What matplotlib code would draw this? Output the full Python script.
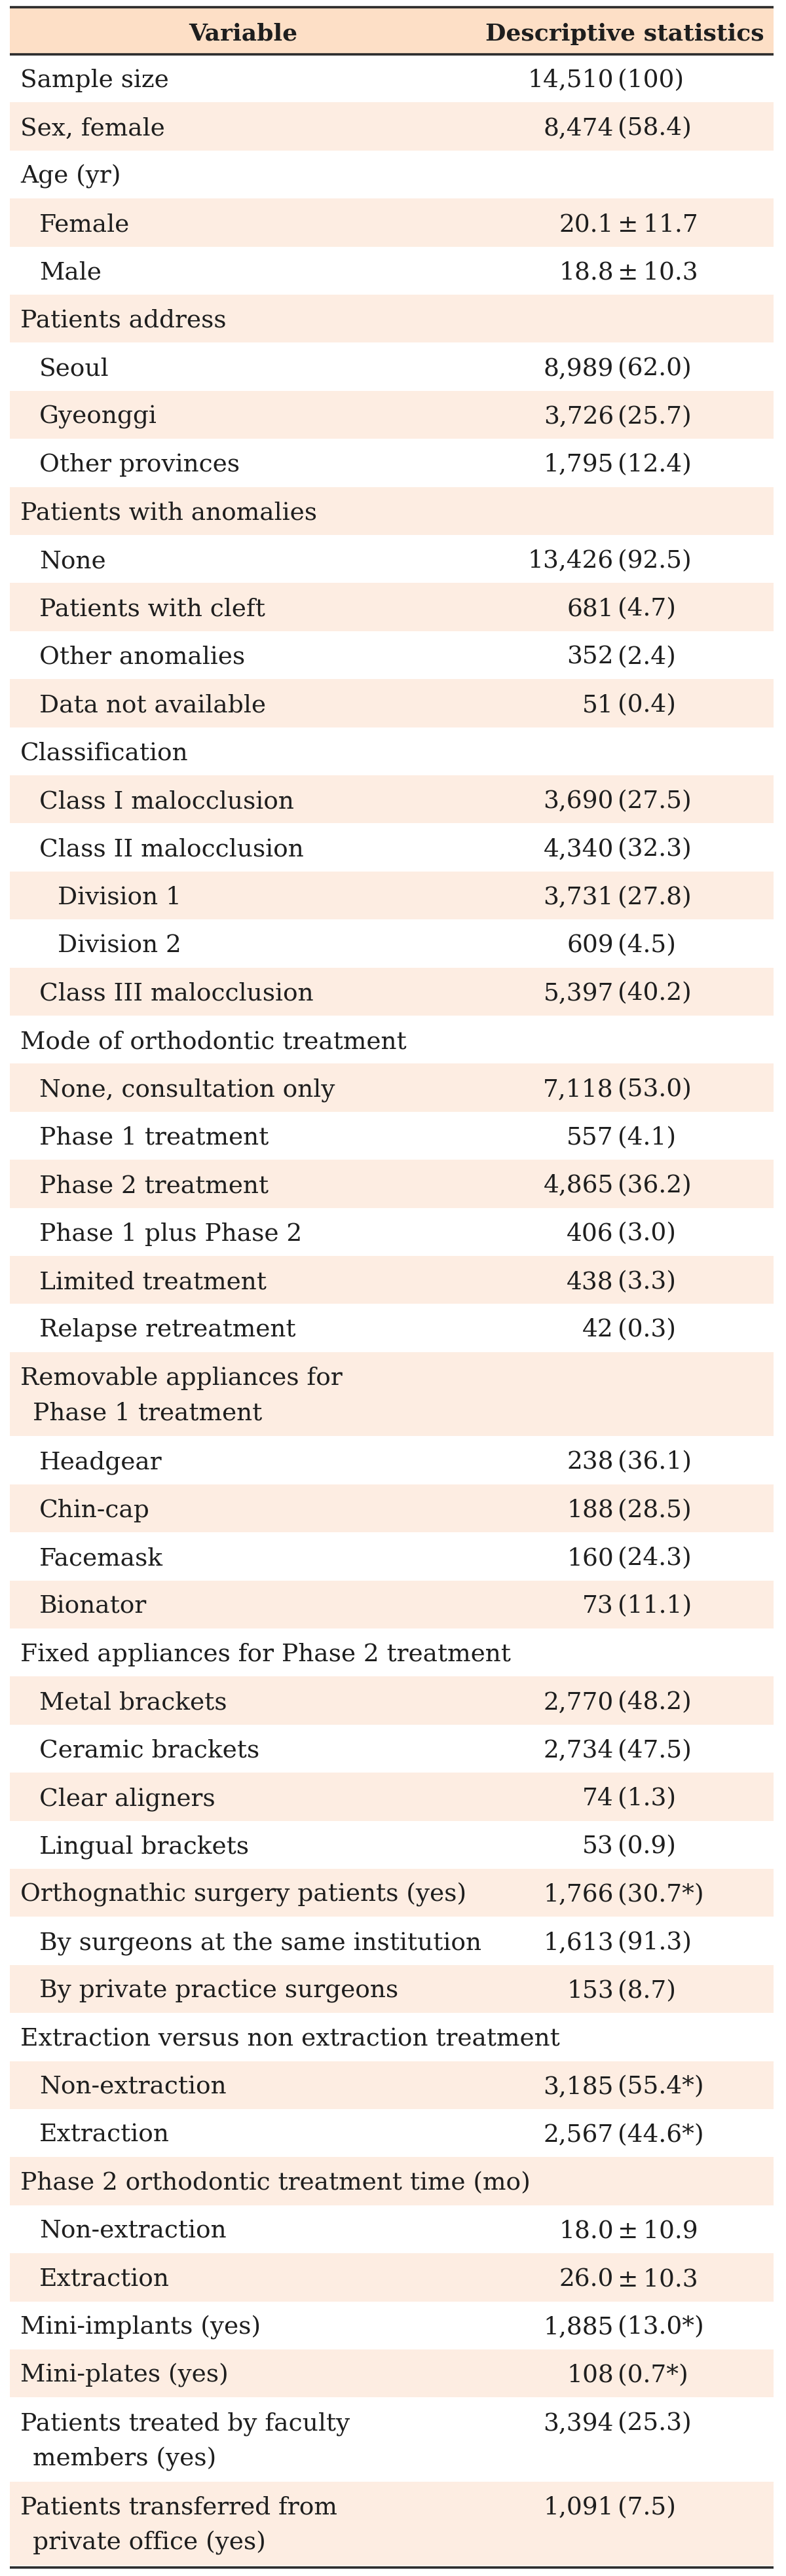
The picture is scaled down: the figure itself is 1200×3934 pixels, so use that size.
import matplotlib
matplotlib.use("Agg")
import matplotlib.pyplot as plt
from matplotlib.patches import Rectangle

# ---------------- data ----------------
headers = ["Variable", "Descriptive statistics"]

labels = [
    "Sample size", "Sex, female", "Age (yr)", "Female", "Male",
    "Patients address", "Seoul", "Gyeonggi", "Other provinces",
    "Patients with anomalies", "None", "Patients with cleft", "Other anomalies", "Data not available",
    "Classification", "Class I malocclusion", "Class II malocclusion", "Division 1", "Division 2",
    "Class III malocclusion",
    "Mode of orthodontic treatment", "None, consultation only", "Phase 1 treatment", "Phase 2 treatment",
    "Phase 1 plus Phase 2", "Limited treatment", "Relapse retreatment",
    "Removable appliances for\nPhase 1 treatment", "Headgear", "Chin-cap", "Facemask", "Bionator",
    "Fixed appliances for Phase 2 treatment", "Metal brackets", "Ceramic brackets", "Clear aligners",
    "Lingual brackets",
    "Orthognathic surgery patients (yes)", "By surgeons at the same institution", "By private practice surgeons",
    "Extraction versus non extraction treatment", "Non-extraction", "Extraction",
    "Phase 2 orthodontic treatment time (mo)", "Non-extraction", "Extraction",
    "Mini-implants (yes)", "Mini-plates (yes)",
    "Patients treated by faculty\nmembers (yes)", "Patients transferred from\nprivate office (yes)",
]

levels = [
    0, 0, 0, 1, 1,
    0, 1, 1, 1,
    0, 1, 1, 1, 1,
    0, 1, 1, 2, 2,
    1,
    0, 1, 1, 1,
    1, 1, 1,
    0, 1, 1, 1, 1,
    0, 1, 1, 1,
    1,
    0, 1, 1,
    0, 1, 1,
    0, 1, 1,
    0, 0,
    0, 0,
]

values = [
    "14,510 (100)", "8,474 (58.4)", "", "20.1 ± 11.7", "18.8 ± 10.3",
    "", "8,989 (62.0)", "3,726 (25.7)", "1,795 (12.4)",
    "", "13,426 (92.5)", "681 (4.7)", "352 (2.4)", "51 (0.4)",
    "", "3,690 (27.5)", "4,340 (32.3)", "3,731 (27.8)", "609 (4.5)",
    "5,397 (40.2)",
    "", "7,118 (53.0)", "557 (4.1)", "4,865 (36.2)",
    "406 (3.0)", "438 (3.3)", "42 (0.3)",
    "", "238 (36.1)", "188 (28.5)", "160 (24.3)", "73 (11.1)",
    "", "2,770 (48.2)", "2,734 (47.5)", "74 (1.3)",
    "53 (0.9)",
    "1,766 (30.7*)", "1,613 (91.3)", "153 (8.7)",
    "", "3,185 (55.4*)", "2,567 (44.6*)",
    "", "18.0 ± 10.9", "26.0 ± 10.3",
    "1,885 (13.0*)", "108 (0.7*)",
    "3,394 (25.3)", "1,091 (7.5)",
]

# ---------------- style ----------------
W, H = 1200, 3934
DPI = 100
HEADER_BG = "#FDDFC6"
STRIPE_BG = "#FDEDE2"
LINE_COLOR = "#2b2b2b"
TEXT_COLOR = "#1e1e1e"
FONT = ["DejaVu Serif"]
FS = 27
FS_HEAD = 26

X0, X1 = 15, 1181
TOP_LINE = 11
HEADER_BOTTOM = 83
ROW_H = 73.4
ROW_H2 = 128.5
INDENT = [31, 60, 88]
CONT_INDENT = 19
SPLIT_X = 939

fig = plt.figure(figsize=(W / DPI, H / DPI), dpi=DPI)
ax = fig.add_axes([0, 0, 1, 1])
ax.set_xlim(0, W)
ax.set_ylim(H, 0)
ax.axis("off")

# header
ax.add_patch(Rectangle((X0, TOP_LINE), X1 - X0, HEADER_BOTTOM - TOP_LINE, facecolor=HEADER_BG, edgecolor="none"))
ax.plot([X0, X1], [TOP_LINE, TOP_LINE], color=LINE_COLOR, lw=2.6, solid_capstyle="butt")
ax.plot([X0, X1], [HEADER_BOTTOM, HEADER_BOTTOM], color=LINE_COLOR, lw=2.6, solid_capstyle="butt")
ax.text(371, 62, headers[0], ha="center", va="baseline", fontsize=FS_HEAD, fontweight="bold",
        family=FONT, color=TEXT_COLOR)
ax.text(954, 62, headers[1], ha="center", va="baseline", fontsize=FS_HEAD, fontweight="bold",
        family=FONT, color=TEXT_COLOR)

y = HEADER_BOTTOM
for i, (lab, lev, val) in enumerate(zip(labels, levels, values)):
    lines = lab.split("\n")
    h = ROW_H if len(lines) == 1 else ROW_H2
    if i % 2 == 1:
        ax.add_patch(Rectangle((X0, y), X1 - X0, h, facecolor=STRIPE_BG, edgecolor="none"))
    base = y + 50
    for j, ln in enumerate(lines):
        x = INDENT[lev] + (CONT_INDENT if j > 0 else 0)
        ax.text(x, base + j * 54, ln, ha="left", va="baseline", fontsize=FS,
                family=FONT, color=TEXT_COLOR)
    if val:
        left, right = val.split(" ", 1)
        if right.startswith("±"):
            right = "±\u2009" + right[1:].strip()
        ax.text(SPLIT_X - 2, base, left, ha="right", va="baseline", fontsize=FS,
                family=FONT, color=TEXT_COLOR)
        ax.text(SPLIT_X + 4, base, right, ha="left", va="baseline", fontsize=FS,
                family=FONT, color=TEXT_COLOR)
    y += h

ax.plot([X0, X1], [y + 3, y + 3], color=LINE_COLOR, lw=2.6, solid_capstyle="butt")

fig.savefig("out.png", dpi=DPI)
